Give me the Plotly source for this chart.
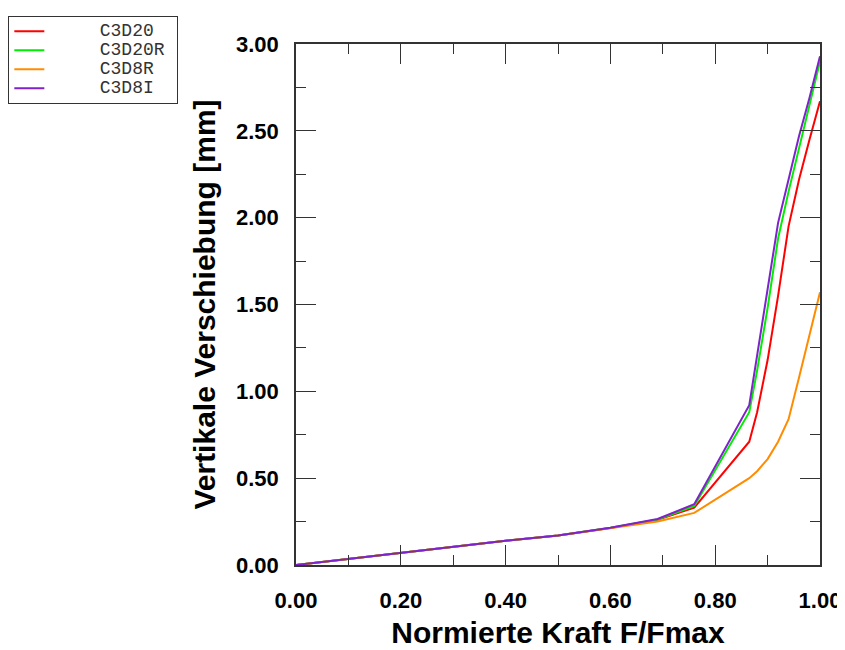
import plotly.graph_objects as go

# normierte Kraft F/Fmax (gemeinsame Stuetzstellen)
kraft = [0.0, 0.1, 0.2, 0.3, 0.4, 0.5, 0.6, 0.69, 0.76, 0.865,
         0.88, 0.90, 0.92, 0.94, 0.96, 0.98, 1.0]

# vertikale Verschiebung [mm]
c3d20 = [0.0, 0.035, 0.07, 0.105, 0.14, 0.17, 0.213, 0.26, 0.33, 0.71,
         0.88, 1.18, 1.55, 1.95, 2.22, 2.45, 2.67]
c3d20r = [0.0, 0.035, 0.07, 0.105, 0.14, 0.17, 0.214, 0.262, 0.34, 0.88,
          1.12, 1.48, 1.88, 2.15, 2.40, 2.65, 2.90]
c3d8r = [0.0, 0.035, 0.07, 0.105, 0.14, 0.17, 0.21, 0.25, 0.30, 0.50,
         0.54, 0.61, 0.71, 0.84, 1.08, 1.32, 1.57]
c3d8i = [0.0, 0.035, 0.07, 0.105, 0.14, 0.17, 0.215, 0.265, 0.35, 0.92,
         1.20, 1.57, 1.97, 2.22, 2.47, 2.69, 2.93]

namen = ['C3D20', 'C3D20R', 'C3D8R', 'C3D8I']
farben = ['#ff0000', '#00ee00', '#ff8c00', '#7f22cc']

fig = go.Figure()
for name, werte, farbe in zip(namen, [c3d20, c3d20r, c3d8r, c3d8i], farben):
    # grosse Schrift im Span, kleine Legendenschrift haelt die Zeilen eng
    label = ('\u00a0<span style="font-size:18px">' + '\u00a0' * 4 + name.ljust(6, '\u00a0')
             + '</span>\u00a0')
    fig.add_trace(go.Scatter(x=kraft, y=werte, mode='lines', name=label,
                             line=dict(color=farbe, width=2)))

achse = dict(showline=True, linecolor='#333', linewidth=1.5, mirror='ticks',
             ticks='inside', ticklen=20, tickwidth=1.3, tickcolor='#333',
             showgrid=False, zeroline=False, automargin=False,
             tickfont=dict(family='Arial, Liberation Sans', size=22, color='black',
                           weight='bold'))
kleine = dict(ticks='inside', ticklen=10, tickcolor='#333', tickwidth=1.3)
titelfont = dict(family='Arial, Liberation Sans', size=30, color='black', weight='bold')

fig.update_xaxes(range=[0, 1], dtick=0.2, tickformat='.2f', ticklabelstandoff=15,
                 minor=dict(dtick=0.1, **kleine),
                 title=dict(text='Normierte Kraft F/Fmax', standoff=10, font=titelfont),
                 **achse)
fig.update_yaxes(range=[0, 3], dtick=0.5, tickformat='.2f', ticklabelstandoff=11,
                 minor=dict(dtick=0.25, **kleine),
                 title=dict(text='Vertikale Verschiebung [mm]', standoff=12, font=titelfont),
                 **achse)

fig.update_layout(
    width=845, height=650,
    margin=dict(l=288, r=33, t=36, b=93, autoexpand=False),
    plot_bgcolor='white', paper_bgcolor='white',
    legend=dict(x=-0.549, y=1.054, xanchor='left', yanchor='top',
                bgcolor='white', bordercolor='#333', borderwidth=1,
                font=dict(family='Liberation Mono, Courier New', size=12, color='#333'),
                tracegroupgap=0),
)

fig.write_html("out.html")
